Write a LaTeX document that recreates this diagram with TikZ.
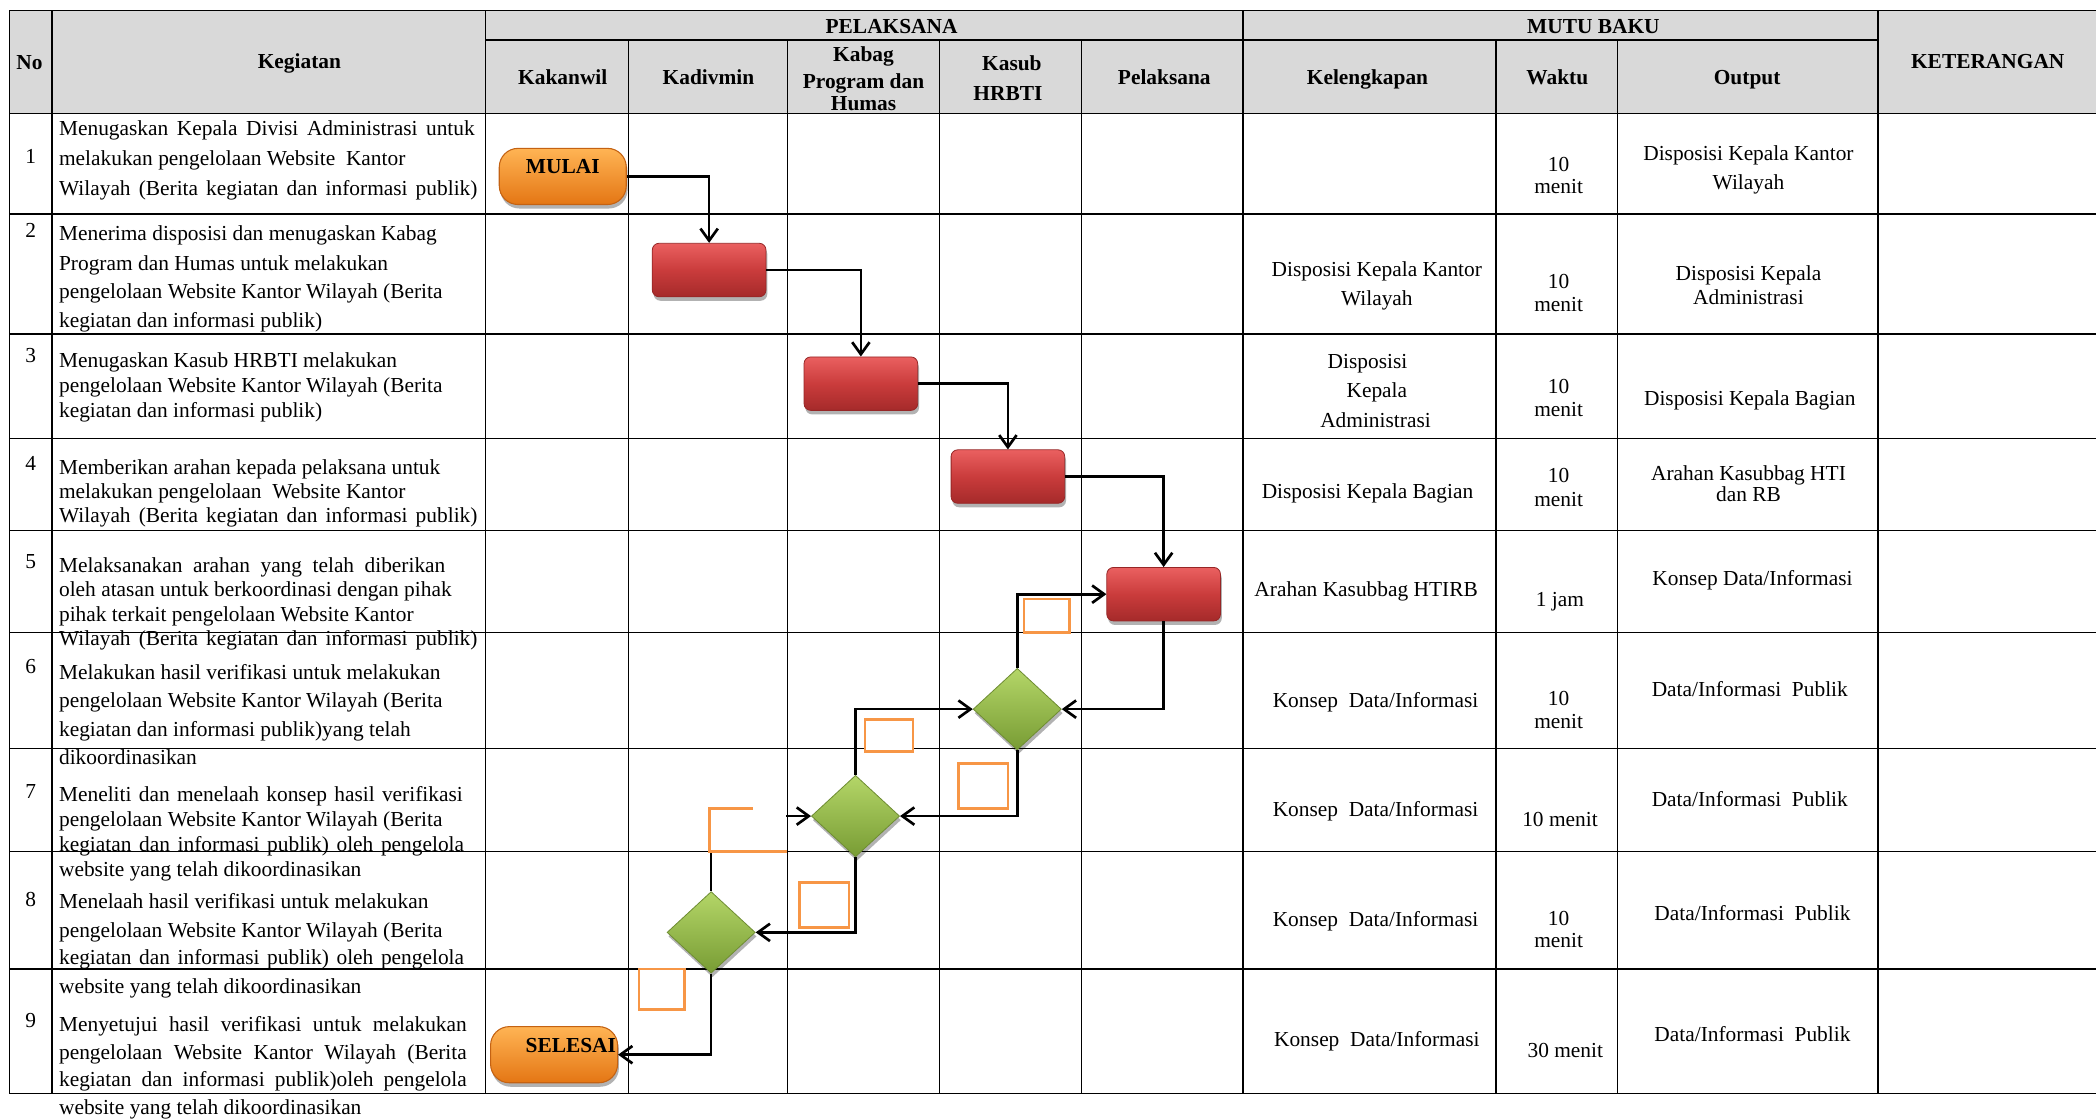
\documentclass[tikz,border=0pt]{standalone}
\usepackage{fontspec}
\setmainfont{Liberation Serif}
\usetikzlibrary{arrows.meta,shapes.geometric,shadows}
\definecolor{hdrgray}{RGB}{217,217,217}
\definecolor{termtop}{RGB}{255,180,84}
\definecolor{termbot}{RGB}{228,118,20}
\definecolor{termdraw}{RGB}{196,98,18}
\definecolor{proctop}{RGB}{234,96,96}
\definecolor{procmid}{RGB}{202,60,60}
\definecolor{procbot}{RGB}{165,42,42}
\definecolor{procdraw}{RGB}{150,38,38}
\definecolor{dectop}{RGB}{180,214,104}
\definecolor{decbot}{RGB}{120,156,52}
\definecolor{decdraw}{RGB}{110,140,50}
\definecolor{oboxc}{RGB}{247,150,70}
\newcommand\jst[2]{\makebox[#1pt][s]{#2}}
\newcommand\kgl[3]{\node[kg] (#1) at (44,#2) {#3};}
\newcommand\ctl[4]{\node[ct] (#1) at (#2,#3) {#4};}
\newcommand\hdl[4]{\node[hd] (#1) at (#2,#3) {#4};}
\begin{document}
\begin{tikzpicture}[x=1pt,y=-1pt,
 tline/.style={line width=1.1pt,draw=black},
 kg/.style={anchor=base west,inner sep=0pt,font=\fontsize{16}{19}\selectfont},
 ct/.style={anchor=base,inner sep=0pt,font=\fontsize{16}{19}\selectfont},
 hd/.style={anchor=base,inner sep=0pt,font=\fontsize{16}{19}\selectfont\bfseries},
 shd/.style={drop shadow={shadow xshift=1pt,shadow yshift=-3pt,opacity=0.3,fill=black}},
 term/.style={rectangle,rounded corners=14pt,minimum width=95pt,minimum height=42pt,inner sep=0pt,
   draw=termdraw,line width=0.8pt,top color=termtop,bottom color=termbot,shd},
 proc/.style={rectangle,rounded corners=5pt,minimum width=85pt,minimum height=40pt,inner sep=0pt,
   draw=procdraw,line width=0.6pt,top color=proctop,bottom color=procbot,middle color=procmid,shd},
 dec/.style={diamond,aspect=1.08,minimum width=66pt,minimum height=61pt,inner sep=0pt,
   draw=decdraw,line width=0.6pt,top color=dectop,bottom color=decbot,shd},
 conn/.style={line width=2pt,-{Straight Barb[length=9pt,width=13pt]}},
 obox/.style={draw=oboxc,line width=2pt,fill=white}
]
\useasboundingbox (0,0) rectangle (1568,837);
\fill[white] (0,0) rectangle (1568,837);
\fill[hdrgray] (7,8) rectangle (1568,85);
% grid
\draw[tline] (7,8) -- (1568,8);
\draw[tline] (363,30) -- (1405,30);
\foreach \y in {85,160,250,328,397,473,560,637,725,818} \draw[tline] (7,\y) -- (1568,\y);
\foreach \x in {7,39,363,930,1405} \draw[tline] (\x,8) -- (\x,818);
\foreach \x in {470,589,703,809,1119,1210} \draw[tline] (\x,30) -- (\x,818);
% headers
\hdl{hno}{22}{52}{No}
\hdl{hkeg}{224}{51}{Kegiatan}
\hdl{hpel}{667}{25}{PELAKSANA}
\hdl{hmutu}{1192}{25}{MUTU BAKU}
\hdl{hket}{1487}{51}{KETERANGAN}
\hdl{hkak}{421}{63}{Kakanwil}
\hdl{hkad}{530}{63}{Kadivmin}
\hdl{hkab1}{646}{46}{Kabag}
\hdl{hkab2}{646}{66}{Program dan}
\hdl{hkab3}{646}{83}{Humas}
\hdl{hkas1}{757}{53}{Kasub}
\hdl{hkas2}{754}{75}{HRBTI}
\hdl{hpl}{871}{63}{Pelaksana}
\hdl{hkel}{1023}{63}{Kelengkapan}
\hdl{hwak}{1165}{63}{Waktu}
\hdl{hout}{1307}{63}{Output}
% numbers
\ctl{n1}{23}{122}{1}
\ctl{n2}{23}{178}{2}
\ctl{n3}{23}{271}{3}
\ctl{n4}{23}{352}{4}
\ctl{n5}{23}{425}{5}
\ctl{n6}{23}{504}{6}
\ctl{n7}{23}{597}{7}
\ctl{n8}{23}{678}{8}
\ctl{n9}{23}{769}{9}
% kegiatan
\kgl{k1a}{101}{\jst{311}{Menugaskan Kepala Divisi Administrasi untuk}}
\kgl{k1b}{124}{melakukan pengelolaan Website~ Kantor}
\kgl{k1c}{146}{\jst{313}{Wilayah (Berita kegiatan dan informasi publik)}}
\kgl{k2a}{180}{Menerima disposisi dan menugaskan Kabag}
\kgl{k2b}{202}{Program dan Humas untuk melakukan}
\kgl{k2c}{223.5}{pengelolaan Website Kantor Wilayah (Berita}
\kgl{k2d}{245}{kegiatan dan informasi publik)}
\kgl{k3a}{275}{Menugaskan Kasub HRBTI melakukan}
\kgl{k3b}{293.5}{pengelolaan Website Kantor Wilayah (Berita}
\kgl{k3c}{312}{kegiatan dan informasi publik)}
\kgl{k4a}{355}{Memberikan arahan kepada pelaksana untuk}
\kgl{k4b}{373}{melakukan pengelolaan~ Website Kantor}
\kgl{k4c}{391}{\jst{313}{Wilayah (Berita kegiatan dan informasi publik)}}
\kgl{k5a}{428}{\jst{289}{Melaksanakan arahan yang telah diberikan}}
\kgl{k5b}{446}{oleh atasan untuk berkoordinasi dengan pihak}
\kgl{k5c}{465}{pihak terkait pengelolaan Website Kantor}
\kgl{k5d}{483}{\jst{313}{Wilayah (Berita kegiatan dan informasi publik)}}
\kgl{k6a}{508}{Melakukan hasil verifikasi untuk melakukan}
\kgl{k6b}{529.5}{pengelolaan Website Kantor Wilayah (Berita}
\kgl{k6c}{551}{kegiatan dan informasi publik)yang telah}
\kgl{k6d}{572}{dikoordinasikan}
\kgl{k7a}{599.5}{\jst{302}{Meneliti dan menelaah konsep hasil verifikasi}}
\kgl{k7b}{618.5}{pengelolaan Website Kantor Wilayah (Berita}
\kgl{k7c}{637}{\jst{303}{kegiatan dan informasi publik) oleh pengelola}}
\kgl{k8a}{655.5}{website yang telah dikoordinasikan}
\kgl{k8b}{680}{Menelaah hasil verifikasi untuk melakukan}
\kgl{k8c}{701}{pengelolaan Website Kantor Wilayah (Berita}
\kgl{k8d}{721.5}{\jst{303}{kegiatan dan informasi publik) oleh pengelola}}
\kgl{k9a}{743.5}{website yang telah dikoordinasikan}
\kgl{k9b}{772}{\jst{305}{Menyetujui hasil verifikasi untuk melakukan}}
\kgl{k9c}{792.5}{\jst{305}{pengelolaan Website Kantor Wilayah (Berita}}
\kgl{k9d}{812.5}{\jst{305}{kegiatan dan informasi publik)oleh pengelola}}
\kgl{k9e}{834}{website yang telah dikoordinasikan}
% kelengkapan
\ctl{l2a}{1030}{206.5}{Disposisi Kepala Kantor}
\ctl{l2b}{1030}{228.5}{Wilayah}
\ctl{l3a}{1023}{275.5}{Disposisi}
\ctl{l3b}{1030}{297.5}{Kepala}
\ctl{l3c}{1029}{319.5}{Administrasi}
\ctl{l4}{1023}{373}{Disposisi Kepala Bagian}
\ctl{l5}{1022}{446}{Arahan Kasubbag HTIRB}
\ctl{l6}{1029}{529.5}{Konsep~ Data/Informasi}
\ctl{l7}{1029}{610.5}{Konsep~ Data/Informasi}
\ctl{l8}{1029}{693}{Konsep~ Data/Informasi}
\ctl{l9}{1030}{783}{Konsep~ Data/Informasi}
% waktu
\ctl{w1a}{1166}{128}{10}
\ctl{w1b}{1166}{145}{menit}
\ctl{w2a}{1166}{216}{10}
\ctl{w2b}{1166}{233}{menit}
\ctl{w3a}{1166}{294}{10}
\ctl{w3b}{1166}{311.5}{menit}
\ctl{w4a}{1166}{361}{10}
\ctl{w4b}{1166}{379}{menit}
\ctl{w5}{1167}{454}{1 jam}
\ctl{w6a}{1166}{528}{10}
\ctl{w6b}{1166}{545}{menit}
\ctl{w7}{1167}{618}{10 menit}
\ctl{w8a}{1166}{692}{10}
\ctl{w8b}{1166}{709}{menit}
\ctl{w9}{1171}{791}{30 menit}
% output
\ctl{o1a}{1308}{120}{Disposisi Kepala Kantor}
\ctl{o1b}{1308}{142}{Wilayah}
\ctl{o2a}{1308}{210}{Disposisi Kepala}
\ctl{o2b}{1308}{228}{Administrasi}
\ctl{o3}{1309}{303}{Disposisi Kepala Bagian}
\ctl{o4a}{1308}{359.5}{Arahan Kasubbag HTI}
\ctl{o4b}{1308}{375}{dan RB}
\ctl{o5}{1311}{438}{Konsep Data/Informasi}
\ctl{o6}{1309}{521}{Data/Informasi~ Publik}
\ctl{o7}{1309}{603}{Data/Informasi~ Publik}
\ctl{o8}{1311}{688.5}{Data/Informasi~ Publik}
\ctl{o9}{1311}{779.5}{Data/Informasi~ Publik}
% shapes
\node[term] (mulai) at (421,132) {};
\hdl{mulait}{421}{130}{MULAI}
\node[proc] (b2) at (530.5,202) {};
\node[proc] (b3) at (644,287) {};
\node[proc] (b4) at (754,356.5) {};
\node[proc] (b5) at (870.5,444.5) {};
\node[dec] (d6) at (761,530.5) {};
\node[dec] (d7) at (640,610.5) {};
\node[dec] (d8) at (532,697.5) {};
\node[term] (selesai) at (414.5,789) {};
\hdl{selesait}{427}{787}{SELESAI}
% small orange boxes
\draw[obox] (766,448) rectangle (800,473);
\draw[obox] (647,538) rectangle (683,562);
\draw[obox] (717,571) rectangle (754,605);
\draw[obox] (598,660) rectangle (635,694);
\draw[obox] (478,725) rectangle (512,755);
% connectors
\draw[conn] (mulai.east) -| (b2.north);
\draw[conn] (b2.east) -| (b3.north);
\draw[conn] (b3.east) -| (b4.north);
\draw[conn] (b4.east) -| (b5.north);
\draw[conn] (b5.south) |- (d6.east);
\draw[conn] (d6.north) |- (b5.west);
\draw[conn] (d6.south) |- (d7.east);
\draw[conn] (d7.north) |- (d6.west);
\draw[conn] (d7.south) |- (d8.east);
\draw[conn] (d8.north) |- (d7.west);
\draw[conn] (d8.south) |- (selesai.east);
% partly hidden orange box over the connector
\fill[white] (531,605) rectangle (588,637);
\draw[draw=oboxc,line width=2pt] (563,605) -- (531,605) -- (531,637) -- (589,637);
\end{tikzpicture}
\end{document}
